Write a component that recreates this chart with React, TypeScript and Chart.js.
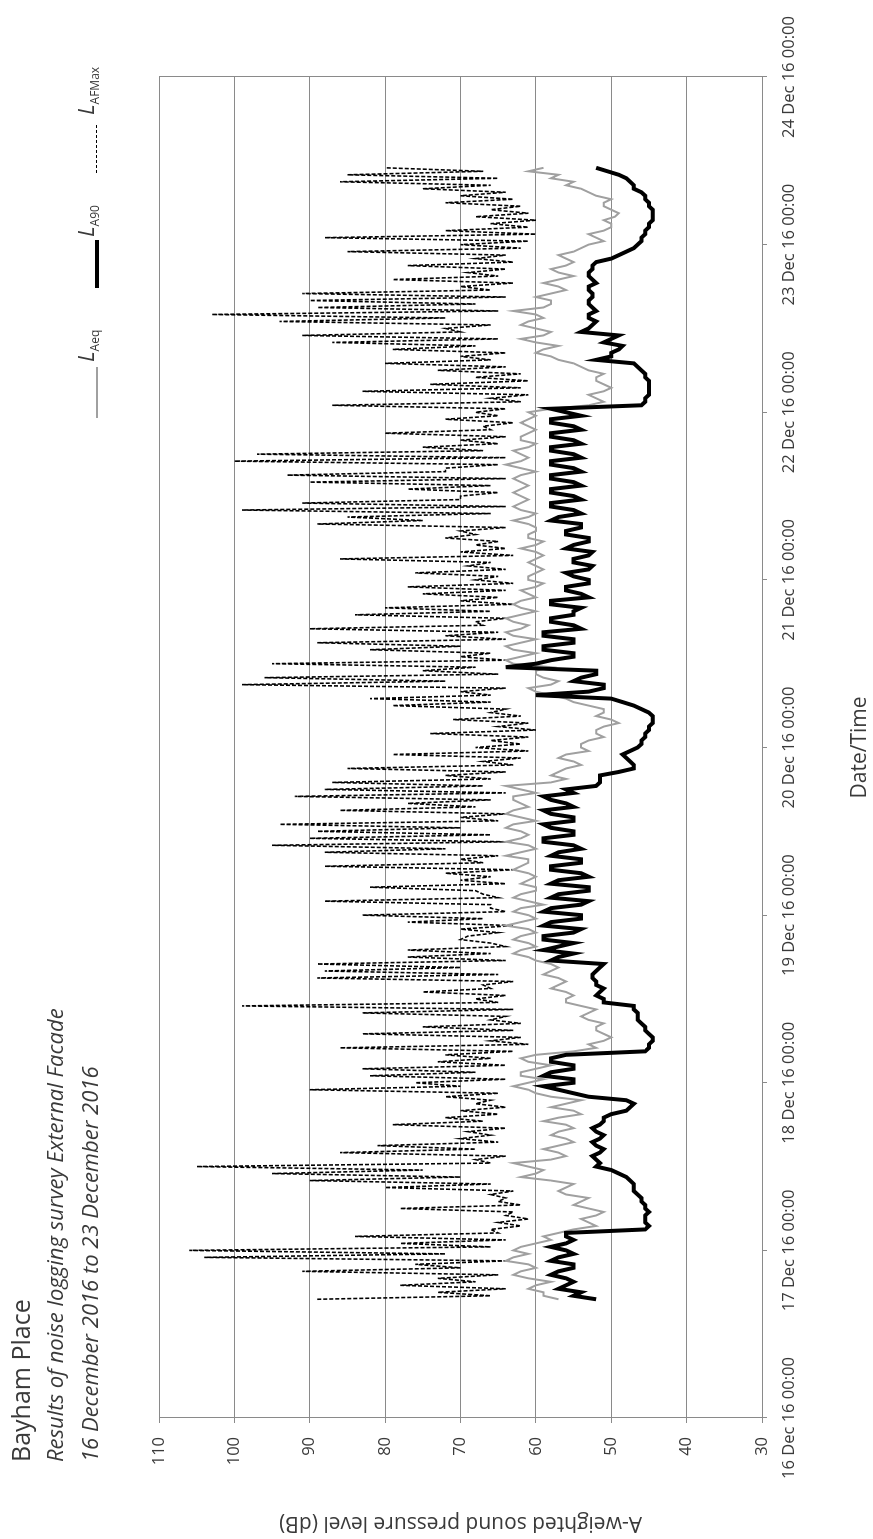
import React, { useEffect, useRef } from "react";
import { Chart, registerables } from "chart.js";

Chart.register(...registerables);

// Hours since 16 Dec 2016 00:00 of the first sample (16 Dec 17:00)
const START_HOUR = 17;

// ---- LA90 (dB) ----
// on the hour, 16 Dec 17:00 .. 23 Dec 11:00
const la90Hour = [
  52, 54, 56, 56, 57, 55, 57, 56, 56, 56,
  45.5, 45.5, 45.5, 45.5, 46, 46.5, 47, 47.5, 49, 52,
  52, 51.5, 52, 51.5, 52, 51.5, 51, 48, 47, 53,
  57, 55, 59, 55, 58, 56, 45, 44.5, 45, 45.5,
  46.5, 46.5, 47, 51, 51.5, 52, 52.5, 52, 51, 57,
  59, 55, 59, 54, 58, 54, 58, 53, 57, 53,
  57, 54, 58, 54, 57, 55, 59, 55, 59, 55,
  59, 56, 59, 56, 51.5, 51.5, 47, 47.5, 48.5, 46.5,
  46, 45.5, 45, 44.5, 45, 47, 50, 53, 51, 54,
  52, 60, 55, 59, 55, 59, 54, 58, 55, 54,
  58, 54, 56, 53, 56, 52.5, 55, 52.5, 55, 53,
  56, 54, 57, 55, 58, 55, 58, 55, 58, 55,
  58, 55, 58, 55, 58, 55, 58, 56, 46, 45.5,
  45, 45, 45.5, 46, 47, 50, 49, 51, 49, 53,
  52, 53, 52.5, 53, 52.5, 53, 52.5, 53, 52.5, 50,
  48, 46.5, 46, 45.5, 45, 44.5, 44.5, 45, 45.5, 47,
  47.5, 49, 52,
];
// on the half hour, 16 Dec 17:30 .. 23 Dec 10:30
const la90Half = [
  55, 57, 55, 58, 55, 58, 55, 58, 55, 56,
  45, 45.5, 45, 45.5, 46, 47, 47,
  48, 50, 51.5, 52.5, 51, 52.5, 51, 52.5, 51, 50, 47.5, 48,
  55, 59, 55, 58, 55, 58, 45.5,
  45, 44.5, 45.5, 46, 46.5, 47, 51,
  52, 51, 52, 52.5, 51.5, 58,
  55, 57, 59, 55, 59, 54, 59, 54, 58, 53,
  58, 53, 58, 54, 58, 54, 59, 55, 58, 55,
  58, 55, 58, 55, 52,
  51.5, 49, 47, 48, 47.5, 46, 45.5, 45, 44.5, 44.5, 46, 48.5,
  60, 51, 55, 52, 64, 58, 55, 59, 55, 59,
  55, 58, 55, 58, 53, 56, 53, 55, 53, 55,
  53, 56, 53, 56, 54, 58, 54, 58, 54, 58,
  54, 58, 54, 58, 54, 58, 54, 58, 54, 58,
  54, 58,
  45.5, 45, 45, 45, 45.5, 46.5,
  52, 50, 48.5, 50, 54, 52.5, 53, 52, 53, 52.5, 53, 52, 53, 52.5, 52, 49,
  47, 46, 45.5, 45, 44.5, 44.5, 45, 45.5, 46,
  47, 48, 50.5,
];

// ---- LAeq (dB) ----
const laeqHour = [
  57, 59, 60, 61, 62, 61, 63, 63, 60, 59,
  55, 53, 52, 53, 54, 56, 56, 58, 60, 61,
  58, 57, 57, 56, 57, 56, 57, 55, 56, 58,
  61, 61, 62, 60, 61, 60, 52, 51, 51, 52,
  53, 53, 54, 56, 56, 57, 57, 58, 58, 61,
  62, 61, 62, 61, 62, 61, 62, 61, 62, 60,
  61, 61, 62, 61, 62, 61, 62, 62, 63, 62,
  63, 62, 63, 62, 58, 58, 56, 55, 56, 54,
  53, 52, 51, 50, 51, 53, 56, 60, 58, 59,
  60, 63, 62, 63, 62, 63, 62, 63, 62, 62,
  62, 61, 60, 61, 60, 60, 60, 60, 60, 61,
  60, 61, 61, 62, 62, 62, 62, 62, 62, 62,
  62, 62, 61, 62, 61, 61, 61, 61, 53, 52,
  51, 51, 52, 53, 55, 58, 59, 60, 59, 60,
  61, 60, 59, 58, 58, 57, 57, 57, 56, 56,
  55, 53, 52, 51, 50, 49.5, 50, 51, 52, 54,
  55, 57, 59,
];
const laeqHalf = [
  59, 61, 58, 63, 60, 64, 61, 62, 58, 57,
  52, 54, 51, 55, 53, 57, 55,
  62, 59, 63, 56, 59, 55, 58, 55, 59, 54, 58, 54,
  60, 63, 59, 62, 58, 62, 55,
  53, 50, 52, 51, 54, 52, 56,
  55, 58, 56, 59, 57, 60,
  63, 60, 63, 60, 64, 60, 63, 59, 63, 60,
  62, 60, 63, 61, 64, 60, 64, 61, 64, 60,
  64, 61, 63, 60, 64,
  56, 57, 54, 57, 53, 54, 51, 52, 49, 52, 51, 55,
  58, 61, 57, 60, 58, 64, 60, 64, 60, 64,
  61, 64, 60, 63, 60, 62, 59, 61, 59, 61,
  59, 62, 59, 61, 60, 63, 60, 63, 61, 63,
  61, 63, 60, 64, 61, 63, 60, 62, 60, 62,
  60, 58,
  51, 53, 50, 52, 51, 54,
  57, 60, 57, 62, 58, 62, 59, 63, 58, 60, 56, 59, 55, 58, 55, 57,
  54, 51, 53, 50, 51, 49, 51, 50, 53,
  56, 58, 61,
];

// ---- LAFMax (dB) ----
const lafmaxHour = [
  89, 73, 78, 73, 91, 76, 104, 106, 78, 84,
  66, 65, 64, 78, 65, 66, 80, 90, 95, 105,
  68, 86, 81, 70, 69, 79, 72, 70, 68, 72,
  90, 76, 82, 83, 73, 72, 86, 66, 83, 75,
  66, 83, 99, 68, 75, 67, 89, 88, 89, 77,
  77, 66, 69, 70, 77, 83, 66, 88, 67, 82,
  70, 72, 88, 70, 88, 95, 90, 89, 94, 70,
  86, 77, 92, 88, 87, 72, 85, 67, 79, 68,
  66, 74, 65, 71, 66, 79, 82, 70, 99, 96,
  75, 95, 70, 82, 89, 72, 90, 68, 84, 80,
  70, 75, 77, 68, 76, 69, 86, 70, 68, 72,
  70, 89, 85, 99, 91, 70, 77, 90, 93, 72,
  100, 97, 75, 70, 80, 67, 72, 68, 87, 66,
  83, 74, 68, 73, 80, 70, 79, 87, 91, 72,
  94, 103, 89, 90, 91, 70, 79, 69, 77, 68,
  85, 70, 88, 72, 66, 68, 66, 72, 70, 75,
  86, 85, 80,
];
const lafmaxHalf = [
  66, 64, 68, 65, 70, 64, 72, 66, 64, 65,
  62, 61, 63, 62, 64, 63, 66,
  70, 75, 66, 64, 68, 65, 66, 64, 67, 65, 64, 66,
  65, 70, 64, 68, 64, 66, 63,
  61, 62, 63, 62, 64, 63, 65,
  64, 66, 63, 65, 70, 64,
  66, 64, 70, 65, 63, 67, 64, 66, 65, 68,
  64, 66, 63, 67, 65, 72, 64, 66, 70, 65,
  64, 68, 66, 64, 67,
  66, 64, 63, 62, 61, 62, 61, 60, 61, 62, 64, 66,
  66, 64, 72, 65, 68, 64, 66, 70, 64, 65,
  67, 64, 66, 63, 65, 64, 63, 65, 64, 66,
  63, 64, 65, 68, 64, 75, 66, 64, 70, 65,
  66, 64, 72, 65, 64, 67, 65, 64, 66, 63,
  65, 64,
  62, 61, 62, 61, 62, 64,
  66, 64, 68, 65, 70, 66, 72, 65, 68, 64, 66, 63, 65, 64, 63, 64,
  62, 61, 60, 61, 60, 61, 62, 63, 64,
  66, 65, 67,
];

// ---- Axes ----
const dateTicks = [0, 24, 48, 72, 96, 120, 144, 168, 192];
const dateTickLabels = [
  "16 Dec 16 00:00",
  "17 Dec 16 00:00",
  "18 Dec 16 00:00",
  "19 Dec 16 00:00",
  "20 Dec 16 00:00",
  "21 Dec 16 00:00",
  "22 Dec 16 00:00",
  "23 Dec 16 00:00",
  "24 Dec 16 00:00",
];
const dbTicks = [30, 40, 50, 60, 70, 80, 90, 100, 110];

const W = 1539;
const H = 873;
const FONT = "'Open Sans', 'Noto Sans', sans-serif";
const TEXT = "#3a3a3a";
const GRID = "#8a8a8a";
const GREY_LINE = "#a0a0a0";

const framePlugin = {
  id: "frame",
  afterDraw(chart: any) {
    const { ctx, chartArea } = chart;
    ctx.save();
    ctx.strokeStyle = GRID;
    ctx.lineWidth = 1;
    ctx.strokeRect(
      Math.round(chartArea.left) + 0.5,
      Math.round(chartArea.top) + 0.5,
      Math.round(chartArea.right - chartArea.left),
      Math.round(chartArea.bottom - chartArea.top)
    );
    ctx.restore();
  },
};

function interleave(hourly: number[], half: number[]) {
  const pts: { x: number; y: number }[] = [];
  hourly.forEach((v, i) => {
    pts.push({ x: START_HOUR + i, y: v });
    if (i < half.length) pts.push({ x: START_HOUR + i + 0.5, y: half[i] });
  });
  return pts;
}

export default function App() {
  const ref = useRef<HTMLCanvasElement>(null);

  useEffect(() => {
    if (!ref.current) return;
    const chart = new Chart(ref.current, {
      type: "line",
      data: {
        datasets: [
          {
            label: "LA90",
            data: interleave(la90Hour, la90Half),
            borderColor: "#000000",
            borderWidth: 4,
            pointRadius: 0,
            tension: 0,
          },
          {
            label: "LAeq",
            data: interleave(laeqHour, laeqHalf),
            borderColor: GREY_LINE,
            borderWidth: 2,
            pointRadius: 0,
            tension: 0,
          },
          {
            label: "LAFMax",
            data: interleave(lafmaxHour, lafmaxHalf),
            borderColor: "#000000",
            borderWidth: 1.6,
            borderDash: [4, 2],
            pointRadius: 0,
            tension: 0,
          },
        ],
      },
      options: {
        animation: false,
        responsive: false,
        devicePixelRatio: 1,
        events: [],
        layout: { padding: { left: 0, top: 159, right: 77, bottom: 0 } },
        plugins: {
          legend: { display: false },
          tooltip: { enabled: false },
        },
        scales: {
          x: {
            type: "linear",
            min: 0,
            max: 192,
            afterBuildTicks: (s: any) => {
              s.ticks = dateTicks.map((v) => ({ value: v }));
            },
            afterFit: (s: any) => {
              s.height = 111;
            },
            ticks: {
              autoSkip: false,
              maxRotation: 0,
              minRotation: 0,
              padding: 12,
              color: TEXT,
              font: { family: FONT, size: 16.5 },
              callback: (v: any) => dateTickLabels[dateTicks.indexOf(Number(v))],
            },
            grid: {
              drawOnChartArea: false,
              drawTicks: true,
              tickLength: 5,
              color: GRID,
            },
            border: { color: GRID },
            title: {
              display: true,
              text: "Date/Time",
              color: TEXT,
              font: { family: FONT, size: 21 },
              padding: { top: 0, bottom: 0.5 },
            },
          },
          y: {
            type: "linear",
            min: 30,
            max: 110,
            afterBuildTicks: (s: any) => {
              s.ticks = dbTicks.map((v) => ({ value: v }));
            },
            afterFit: (s: any) => {
              s.width = 121;
            },
            ticks: {
              padding: 14,
              color: TEXT,
              font: { family: FONT, size: 16.5 },
              callback: (v: any) => String(v),
            },
            grid: {
              color: GRID,
              lineWidth: 1,
              tickLength: 5,
            },
            border: { color: GRID },
            title: {
              display: true,
              text: "A-weighted sound pressure level (dB)",
              color: TEXT,
              font: { family: FONT, size: 21 },
              padding: { top: 3.5, bottom: 0 },
            },
          },
        },
      },
      plugins: [framePlugin],
    } as any);
    return () => chart.destroy();
  }, []);

  const legendText = (sub: string, left: number): React.ReactNode => (
    <div
      style={{
        position: "absolute",
        left,
        top: 72,
        fontFamily: FONT,
        color: TEXT,
        whiteSpace: "nowrap",
        lineHeight: "26px",
      }}
    >
      <span style={{ fontStyle: "italic", fontSize: 22 }}>L</span>
      <span style={{ fontSize: 12, position: "relative", top: 5 }}>{sub}</span>
    </div>
  );

  const textLine = (
    text: string,
    top: number,
    size: number,
    italic: boolean,
    lh: number
  ): React.ReactNode => (
    <div
      style={{
        position: "absolute",
        left: 77,
        top,
        fontFamily: FONT,
        fontSize: size,
        fontStyle: italic ? "italic" : "normal",
        lineHeight: `${lh}px`,
        color: TEXT,
        whiteSpace: "nowrap",
      }}
    >
      {text}
    </div>
  );

  return (
    <div
      style={{
        position: "fixed",
        left: 0,
        top: 0,
        width: W,
        height: H,
        transformOrigin: "0 0",
        transform: `translate(0px, ${W}px) rotate(-90deg)`,
        background: "#ffffff",
        overflow: "hidden",
      }}
    >
      <canvas ref={ref} width={W} height={H} style={{ width: W, height: H, display: "block" }} />
      {textLine("Bayham Place", 6, 25, false, 28)}
      {textLine("Results of noise logging survey External Facade", 41, 22, true, 26)}
      {textLine("16 December 2016 to 23 December 2016", 76, 22, true, 26)}

      {/* Legend */}
      <div style={{ position: "absolute", left: 1121, top: 96, width: 51, height: 1.5, background: GREY_LINE }} />
      {legendText("Aeq", 1177)}
      <div style={{ position: "absolute", left: 1251, top: 95, width: 48, height: 4, background: "#000" }} />
      {legendText("A90", 1302)}
      <div
        style={{
          position: "absolute",
          left: 1366,
          top: 96,
          width: 48,
          height: 1,
          background:
            "repeating-linear-gradient(90deg, #000 0px, #000 3px, transparent 3px, transparent 5px)",
        }}
      />
      {legendText("AFMax", 1424)}
    </div>
  );
}
